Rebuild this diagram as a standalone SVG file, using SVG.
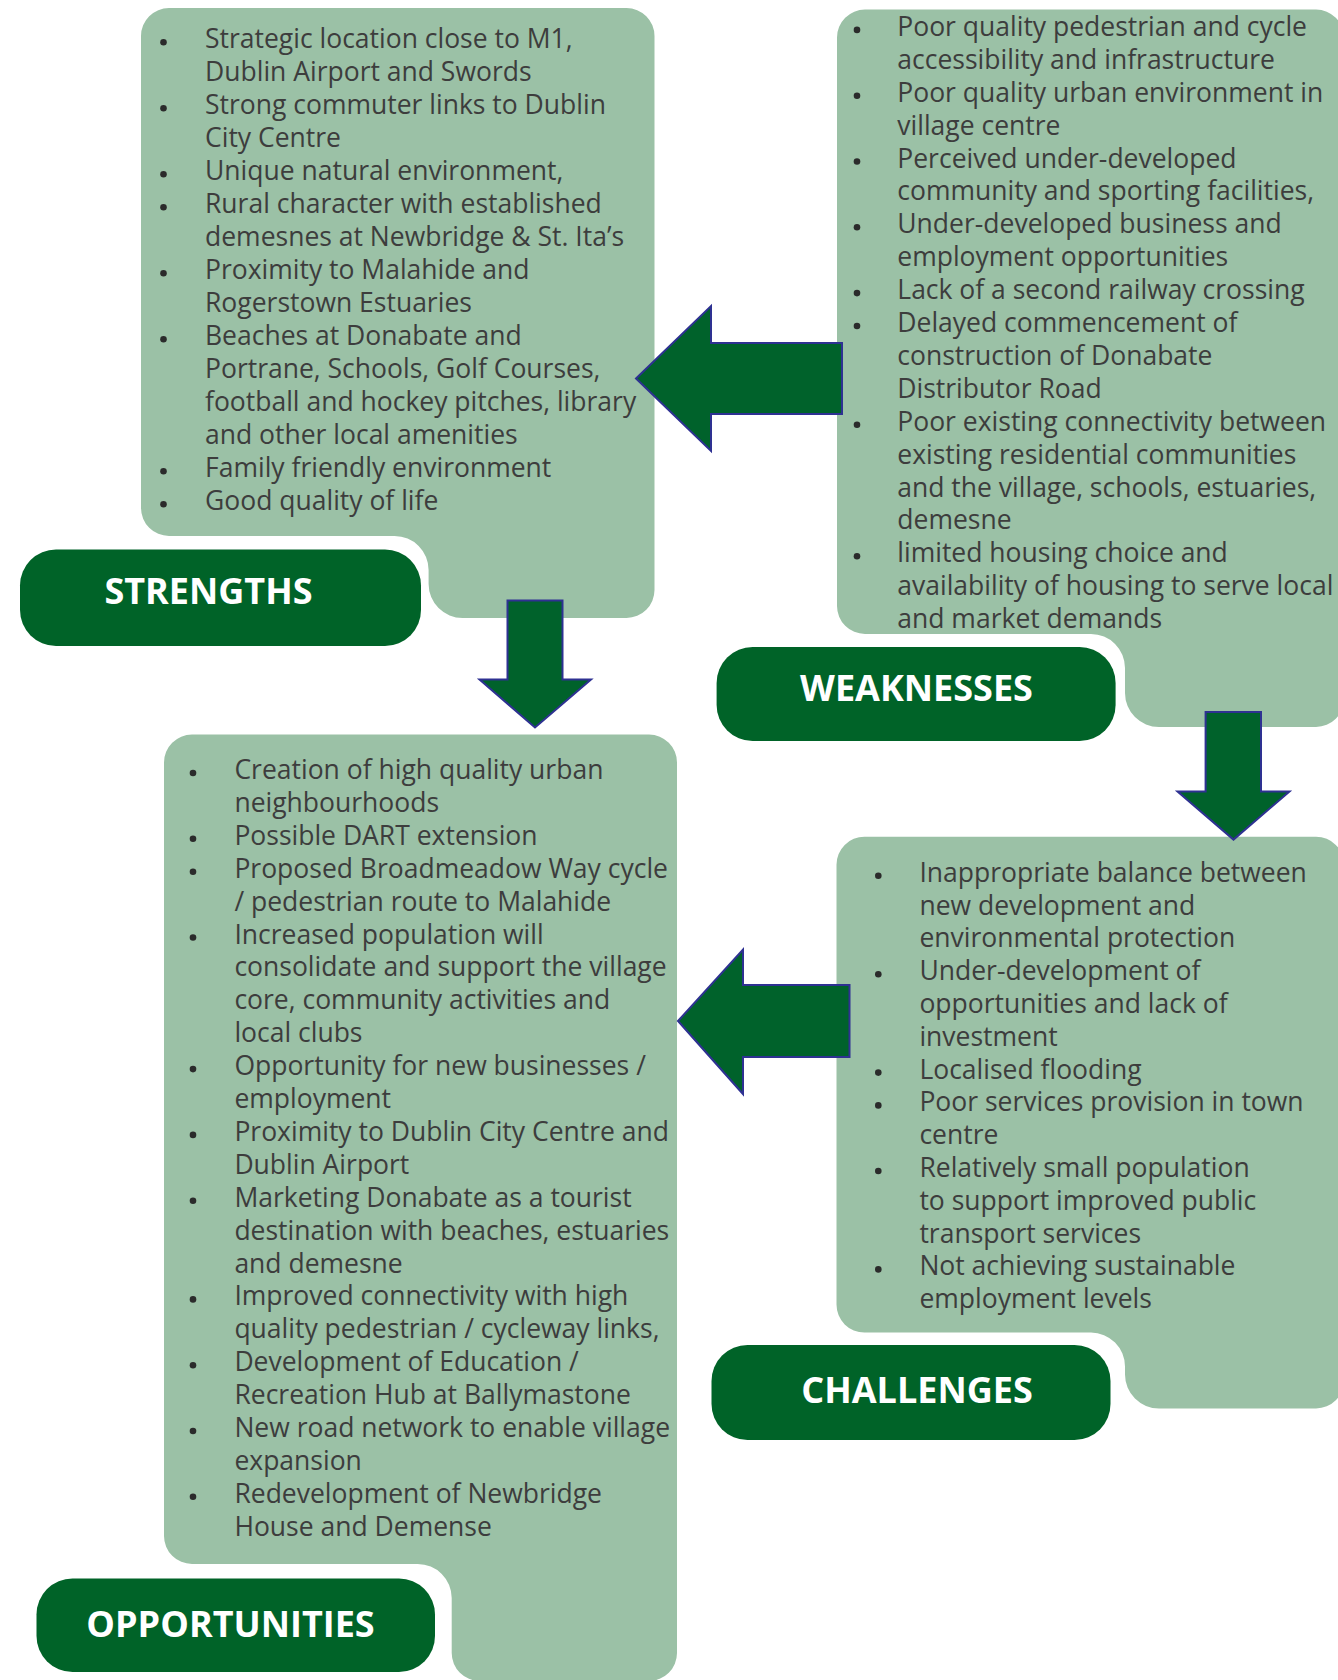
<svg xmlns="http://www.w3.org/2000/svg" width="1338" height="1680" viewBox="0 0 1338 1680">
<style>
.box{fill:#9bc1a6}
.lbl{fill:#006328}
.lt{font-family:"Open Sans","Liberation Sans",sans-serif;font-weight:bold;font-size:36px;fill:#ffffff;text-anchor:middle}
.tx{font-family:"Open Sans","Liberation Sans",sans-serif;font-size:26.5px;fill:#3d3d3d}
.bl{fill:#2b2b2b}
.arr{fill:#00622b;stroke:#2e3192;stroke-width:2}
</style>
<rect width="1338" height="1680" fill="#ffffff"/>

<g id="strengths">
<path class="box" d="M169,8 H626.5 A28,28 0 0 1 654.5,36 V590 A28,28 0 0 1 626.5,618 H462.6 A34,34 0 0 1 428.6,584 V570 A34,34 0 0 0 394.6,536 H169 A28,28 0 0 1 141,508 V36 A28,28 0 0 1 169,8 Z"/>
<g class="bl">
<circle cx="163.5" cy="42.3" r="3.3"/><circle cx="163.5" cy="108.3" r="3.3"/><circle cx="163.5" cy="174.3" r="3.3"/><circle cx="163.5" cy="207.3" r="3.3"/><circle cx="163.5" cy="273.3" r="3.3"/><circle cx="163.5" cy="339.3" r="3.3"/><circle cx="163.5" cy="471.3" r="3.3"/><circle cx="163.5" cy="504.3" r="3.3"/>
</g>
<text class="tx">
<tspan x="205" y="48.3">Strategic location close to M1,</tspan>
<tspan x="205" y="81.3">Dublin Airport and Swords</tspan>
<tspan x="205" y="114.3">Strong commuter links to Dublin</tspan>
<tspan x="205" y="147.3">City Centre</tspan>
<tspan x="205" y="180.3">Unique natural environment,</tspan>
<tspan x="205" y="213.3">Rural character with established</tspan>
<tspan x="205" y="246.3">demesnes at Newbridge &amp; St. Ita’s</tspan>
<tspan x="205" y="279.3">Proximity to Malahide and</tspan>
<tspan x="205" y="312.3">Rogerstown Estuaries</tspan>
<tspan x="205" y="345.3">Beaches at Donabate and</tspan>
<tspan x="205" y="378.3">Portrane, Schools, Golf Courses,</tspan>
<tspan x="205" y="411.3">football and hockey pitches, library</tspan>
<tspan x="205" y="444.3">and other local amenities</tspan>
<tspan x="205" y="477.3">Family friendly environment</tspan>
<tspan x="205" y="510.3">Good quality of life</tspan>
</text>
<rect class="lbl" x="20" y="549.5" width="401" height="96.5" rx="36"/>
<text class="lt" x="208.5" y="604">STRENGTHS</text>
</g>

<g id="weaknesses">
<path class="box" d="M865,9.5 H1316 A28,28 0 0 1 1344,37.5 V699 A28,28 0 0 1 1316,727 H1159 A34,34 0 0 1 1125,693 V668 A34,34 0 0 0 1091,634 H865 A28,28 0 0 1 837,606 V37.5 A28,28 0 0 1 865,9.5 Z"/>
<g class="bl">
<circle cx="857" cy="29.9" r="3.3"/><circle cx="857" cy="95.7" r="3.3"/><circle cx="857" cy="161.5" r="3.3"/><circle cx="857" cy="227.3" r="3.3"/><circle cx="857" cy="293.1" r="3.3"/><circle cx="857" cy="326" r="3.3"/><circle cx="857" cy="424.7" r="3.3"/><circle cx="857" cy="556.3" r="3.3"/>
</g>
<text class="tx">
<tspan x="897.3" y="35.9">Poor quality pedestrian and cycle</tspan>
<tspan x="897.3" y="68.8">accessibility and infrastructure</tspan>
<tspan x="897.3" y="101.7">Poor quality urban environment in</tspan>
<tspan x="897.3" y="134.6">village centre</tspan>
<tspan x="897.3" y="167.5">Perceived under-developed</tspan>
<tspan x="897.3" y="200.4">community and sporting facilities,</tspan>
<tspan x="897.3" y="233.3">Under-developed business and</tspan>
<tspan x="897.3" y="266.2">employment opportunities</tspan>
<tspan x="897.3" y="299.1">Lack of a second railway crossing</tspan>
<tspan x="897.3" y="332">Delayed commencement of</tspan>
<tspan x="897.3" y="364.9">construction of Donabate</tspan>
<tspan x="897.3" y="397.8">Distributor Road</tspan>
<tspan x="897.3" y="430.7">Poor existing connectivity between</tspan>
<tspan x="897.3" y="463.6">existing residential communities</tspan>
<tspan x="897.3" y="496.5">and the village, schools, estuaries,</tspan>
<tspan x="897.3" y="529.4">demesne</tspan>
<tspan x="897.3" y="562.3">limited housing choice and</tspan>
<tspan x="897.3" y="595.2">availability of housing to serve local</tspan>
<tspan x="897.3" y="628.1">and market demands</tspan>
</text>
<rect class="lbl" x="716.6" y="647" width="399" height="94" rx="36"/>
<text class="lt" x="916.5" y="700.5">WEAKNESSES</text>
</g>

<g id="challenges">
<path class="box" d="M864.5,836.7 H1316 A28,28 0 0 1 1344,864.7 V1380.5 A28,28 0 0 1 1316,1408.5 H1159 A34,34 0 0 1 1125,1374.5 V1366.6 A34,34 0 0 0 1091,1332.6 H864.5 A28,28 0 0 1 836.5,1304.6 V864.7 A28,28 0 0 1 864.5,836.7 Z"/>
<g class="bl">
<circle cx="878.3" cy="875.8" r="3.3"/><circle cx="878.3" cy="974.2" r="3.3"/><circle cx="878.3" cy="1072.6" r="3.3"/><circle cx="878.3" cy="1105.4" r="3.3"/><circle cx="878.3" cy="1171" r="3.3"/><circle cx="878.3" cy="1269.4" r="3.3"/>
</g>
<text class="tx">
<tspan x="919.4" y="881.8">Inappropriate balance between</tspan>
<tspan x="919.4" y="914.6">new development and</tspan>
<tspan x="919.4" y="947.4">environmental protection</tspan>
<tspan x="919.4" y="980.2">Under-development of</tspan>
<tspan x="919.4" y="1013">opportunities and lack of</tspan>
<tspan x="919.4" y="1045.8">investment</tspan>
<tspan x="919.4" y="1078.6">Localised flooding</tspan>
<tspan x="919.4" y="1111.4">Poor services provision in town</tspan>
<tspan x="919.4" y="1144.2">centre</tspan>
<tspan x="919.4" y="1177">Relatively small population</tspan>
<tspan x="919.4" y="1209.8">to support improved public</tspan>
<tspan x="919.4" y="1242.6">transport services</tspan>
<tspan x="919.4" y="1275.4">Not achieving sustainable</tspan>
<tspan x="919.4" y="1308.2">employment levels</tspan>
</text>
<rect class="lbl" x="711.5" y="1345" width="399" height="95" rx="36"/>
<text class="lt" x="917" y="1403">CHALLENGES</text>
</g>

<g id="opportunities">
<path class="box" d="M192,734.5 H649 A28,28 0 0 1 677,762.5 V1653 A28,28 0 0 1 649,1681 H479.7 A28,28 0 0 1 451.7,1653 V1598 A34,34 0 0 0 417.7,1564 H192 A28,28 0 0 1 164,1536 V762.5 A28,28 0 0 1 192,734.5 Z"/>
<g class="bl">
<circle cx="193" cy="773" r="3.3"/><circle cx="193" cy="838.8" r="3.3"/><circle cx="193" cy="871.7" r="3.3"/><circle cx="193" cy="937.5" r="3.3"/><circle cx="193" cy="1069.1" r="3.3"/><circle cx="193" cy="1134.9" r="3.3"/><circle cx="193" cy="1200.7" r="3.3"/><circle cx="193" cy="1299.4" r="3.3"/><circle cx="193" cy="1365.2" r="3.3"/><circle cx="193" cy="1431" r="3.3"/><circle cx="193" cy="1496.8" r="3.3"/>
</g>
<text class="tx">
<tspan x="234.4" y="779">Creation of high quality urban</tspan>
<tspan x="234.4" y="811.9">neighbourhoods</tspan>
<tspan x="234.4" y="844.8">Possible DART extension</tspan>
<tspan x="234.4" y="877.7">Proposed Broadmeadow Way cycle</tspan>
<tspan x="234.4" y="910.6">/ pedestrian route to Malahide</tspan>
<tspan x="234.4" y="943.5">Increased population will</tspan>
<tspan x="234.4" y="976.4">consolidate and support the village</tspan>
<tspan x="234.4" y="1009.3">core, community activities and</tspan>
<tspan x="234.4" y="1042.2">local clubs</tspan>
<tspan x="234.4" y="1075.1">Opportunity for new businesses /</tspan>
<tspan x="234.4" y="1108">employment</tspan>
<tspan x="234.4" y="1140.9">Proximity to Dublin City Centre and</tspan>
<tspan x="234.4" y="1173.8">Dublin Airport</tspan>
<tspan x="234.4" y="1206.7">Marketing Donabate as a tourist</tspan>
<tspan x="234.4" y="1239.6">destination with beaches, estuaries</tspan>
<tspan x="234.4" y="1272.5">and demesne</tspan>
<tspan x="234.4" y="1305.4">Improved connectivity with high</tspan>
<tspan x="234.4" y="1338.3">quality pedestrian / cycleway links,</tspan>
<tspan x="234.4" y="1371.2">Development of Education /</tspan>
<tspan x="234.4" y="1404.1">Recreation Hub at Ballymastone</tspan>
<tspan x="234.4" y="1437">New road network to enable village</tspan>
<tspan x="234.4" y="1469.9">expansion</tspan>
<tspan x="234.4" y="1502.8">Redevelopment of Newbridge</tspan>
<tspan x="234.4" y="1535.7">House and Demense</tspan>
</text>
<rect class="lbl" x="36.5" y="1578.5" width="398.5" height="93.5" rx="36"/>
<text class="lt" x="230.5" y="1637">OPPORTUNITIES</text>
</g>

<g id="connectors">
<polygon class="arr" points="636,378.5 711,306 711,343 842,343 842,414 711,414 711,451"/>
<polygon class="arr" points="507.5,600.5 562.5,600.5 562.5,679.5 591,679.5 535,727.5 479.5,679.5 507.5,679.5"/>
<polygon class="arr" points="1205.6,712 1261,712 1261,791.5 1289.5,791.5 1233.5,839.6 1177.5,791.5 1205.6,791.5"/>
<polygon class="arr" points="678,1021 743,949.5 743,985 849.5,985 849.5,1057 743,1057 743,1094"/>
</g>
</svg>
